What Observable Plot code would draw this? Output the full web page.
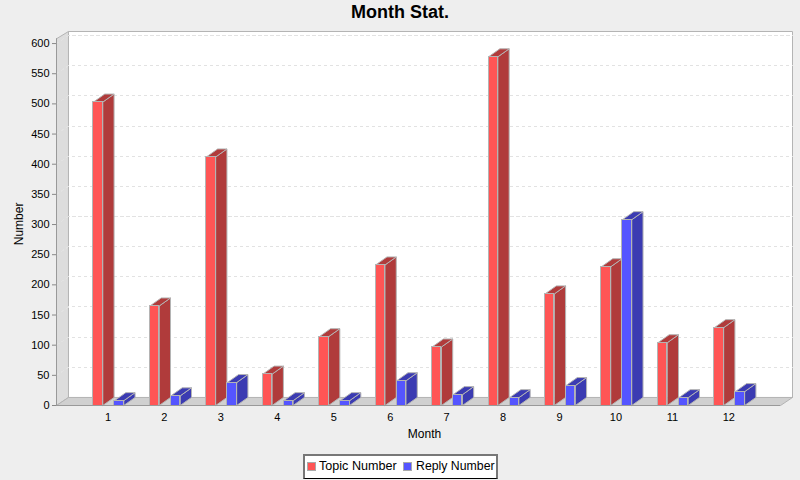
<!DOCTYPE html>
<html>
<head>
<meta charset="utf-8">
<script src="https://cdn.jsdelivr.net/npm/d3@7"></script>
<script src="https://cdn.jsdelivr.net/npm/@observablehq/plot@0.6"></script>
<style>
html,body{margin:0;padding:0;background:#eeeeee;width:800px;height:480px;overflow:hidden;font-family:"Liberation Sans",sans-serif}
#title{position:absolute;left:0;top:0;width:800px;height:24px;line-height:25px;text-align:center;font-weight:bold;font-size:18px;color:#000}
#chart{position:absolute;left:0;top:24px}
#legend{position:absolute;left:303px;top:454px;width:191px;height:22px;background:#fff;border:2px solid #777;border-bottom:1px solid #000;font-size:12.3px;color:#000}
#legend span{position:absolute;top:3px;white-space:nowrap}
#legend i{position:absolute;top:6px;width:7px;height:7px;border:1px solid #aaa}
</style>
</head>
<body>
<div id="title">Month Stat.</div>
<div id="chart"></div>
<div id="legend">
  <i style="left:2px;background:#ff5555"></i><span style="left:14px;font-size:12.6px">Topic Number</span>
  <i style="left:98px;background:#5555ff"></i><span style="left:111px">Reply Number</span>
</div>
<script>
const months = [1,2,3,4,5,6,7,8,9,10,11,12];
const topicNumber = [503,165,412,52,114,233,97,578,185,230,104,129];
const replyNumber = [8,16,38,8,8,41,18,13,33,308,13,23];
const yTicks = [0,50,100,150,200,250,300,350,400,450,500,550,600];

// depth of the 3D effect and bar layout, in data units
const depthX = 0.2, depthY = 13.3, barW = 0.165, barStep = 0.372;
const wallX = 0.212;
const xMin = 0.07, xMax = 13.11, yTop = 620, yAxisTop = 608;
const xFrontEnd = xMax - wallX, xLabel = 6.59, yLabel = 301;

const frontBars = [], polys = [];
function poly(id, fill, pts){
  pts.concat([pts[0]]).forEach(p => polys.push({id, fill, x:p[0], y:p[1]}));
}
months.forEach((m,i) => {
  [[topicNumber[i],"#ff5555","#b03b3b",-0.275],[replyNumber[i],"#5555ff","#3b3bb2",-0.275+barStep]].forEach(([v,front,dark,off],s) => {
    const x1 = m + off, x2 = x1 + barW, id = m + "-" + s;
    poly(id+"side", dark, [[x2,0],[x2+depthX,depthY],[x2+depthX,v+depthY],[x2,v]]);
    poly(id+"top", dark, [[x1,v],[x2,v],[x2+depthX,v+depthY],[x1+depthX,v+depthY]]);
    frontBars.push({id, x1, x2, v, front});
  });
});
const gridLines = yTicks.slice(1).flatMap(t => [
  {t, x:xMin, y:t},
  {t, x:xMin+wallX, y:t+depthY},
  {t, x:xMax, y:t+depthY}
]);
const wall = [
  {x:xMin,y:0},{x:xMin+wallX,y:depthY},{x:xMin+wallX,y:yTop},{x:xMin,y:yAxisTop},{x:xMin,y:0}
];
const floor = [
  {x:xMin,y:0},{x:xFrontEnd,y:0},{x:xMax,y:depthY},{x:xMin+wallX,y:depthY},{x:xMin,y:0}
];
const back = [
  {x:xMin+wallX,y:depthY},{x:xMax,y:depthY},{x:xMax,y:yTop},{x:xMin+wallX,y:yTop},{x:xMin+wallX,y:depthY}
];
const edge = "#b4b4b4";

const chart = Plot.plot({
  width: 800, height: 426,
  marginLeft: 56, marginRight: 8, marginTop: 7, marginBottom: 45,
  style: {background:"transparent", fontFamily:"'Liberation Sans',sans-serif", fontSize:"11px", color:"#000"},
  x: {type:"linear", domain:[xMin,xMax]},
  y: {type:"linear", domain:[0,yTop]},
  marks: [
    Plot.line(back, {x:"x", y:"y", fill:"#ffffff", stroke:edge, strokeWidth:1}),
    Plot.line(wall, {x:"x", y:"y", fill:"#dddddd", stroke:edge, strokeWidth:1}),
    Plot.line(floor, {x:"x", y:"y", fill:"#d0d0d0", stroke:edge, strokeWidth:1}),
    Plot.line(gridLines, {x:"x", y:"y", z:"t", stroke:"#e2e2e2", strokeWidth:1, strokeDasharray:"3,3", shapeRendering:"crispEdges"}),
    Plot.line(polys, {x:"x", y:"y", z:"id", fill:"fill", stroke:edge, strokeWidth:1}),
    Plot.rect(frontBars, {x1:"x1", x2:"x2", y1:0, y2:"v", fill:"front", stroke:edge, strokeWidth:1, shapeRendering:"crispEdges"}),
    Plot.ruleX([xMin], {y1:0, y2:yAxisTop, stroke:"#999999"}),
    Plot.ruleY([0], {x1:xMin, x2:xFrontEnd, stroke:"#999999"}),
    Plot.axisY({ticks:yTicks, tickSize:4, tickPadding:3, label:null, tickFormat:d=>String(d), stroke:"#888"}),
    Plot.axisX({ticks:months, tickSize:0, tickPadding:8, dx:-1, label:null, tickFormat:d=>String(d)}),
    Plot.text(["Month"], {x:xLabel, y:0, dy:29, text:d=>d, fontSize:12, fill:"#000"}),
    Plot.text(["Number"], {x:xMin, y:yLabel, dx:-37, text:d=>d, rotate:-90, fontSize:12, fill:"#000"})
  ]
});
document.getElementById("chart").appendChild(chart);
</script>
</body>
</html>
